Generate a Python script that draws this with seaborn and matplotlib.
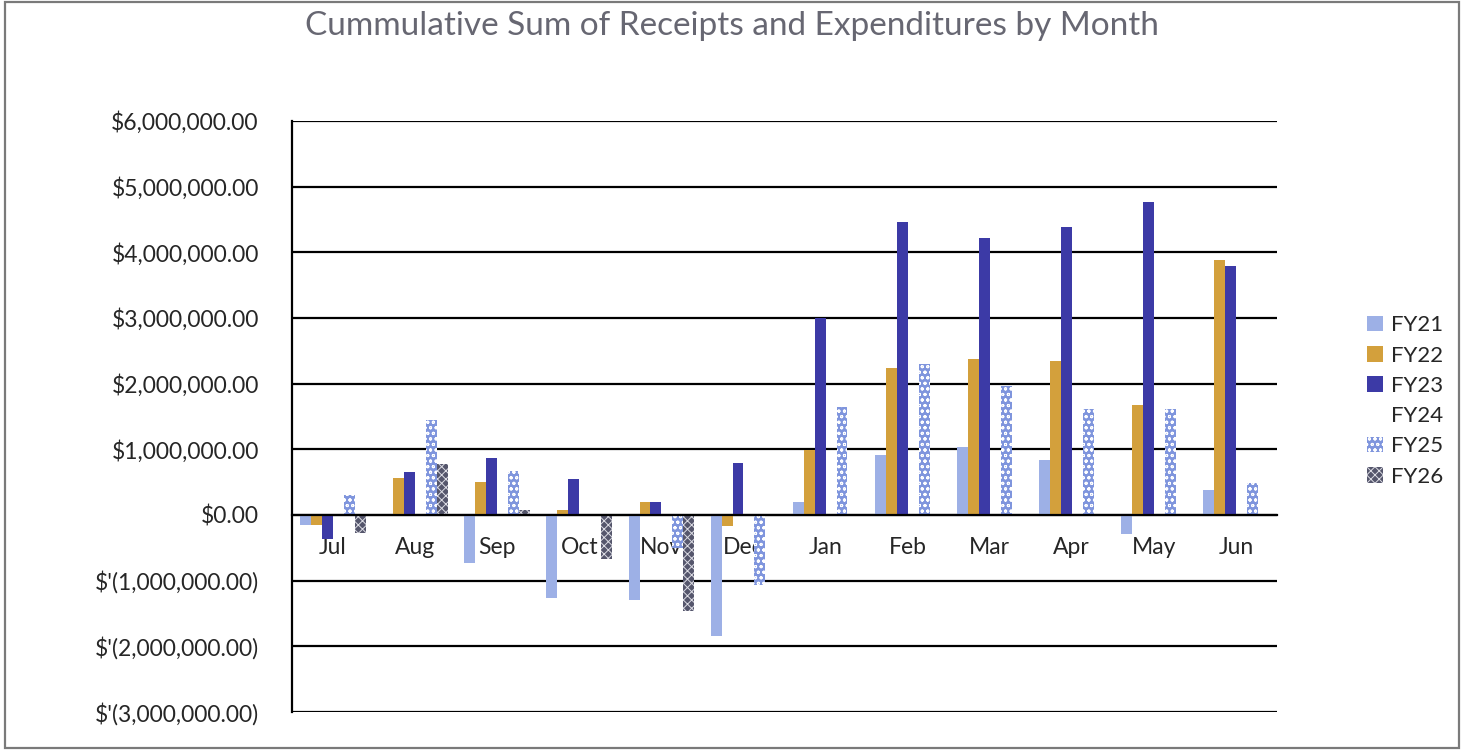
import numpy as np
import pandas as pd
import matplotlib
matplotlib.use("Agg")
import matplotlib.pyplot as plt
from matplotlib.patches import Rectangle
import seaborn as sns

# data (dollars, in millions)
months = ["Jul", "Aug", "Sep", "Oct", "Nov", "Dec", "Jan", "Feb", "Mar", "Apr", "May", "Jun"]
fy21 = [-0.15, 0.02, -0.73, -1.27, -1.30, -1.85, 0.19, 0.91, 1.04, 0.83, -0.29, 0.38]
fy22 = [-0.15, 0.56, 0.50, 0.07, 0.20, -0.17, 0.99, 2.23, 2.37, 2.35, 1.68, 3.88]
fy23 = [-0.37, 0.65, 0.87, 0.55, 0.20, 0.79, 3.00, 4.46, 4.21, 4.38, 4.77, 3.79]
fy24 = [0.0] * 12
fy25 = [0.31, 1.45, 0.67, -0.02, -0.50, -1.07, 1.65, 2.30, 1.96, 1.62, 1.62, 0.48]
fy26 = [-0.27, 0.78, 0.07, -0.67, -1.47, 0.0, 0.0, 0.0, 0.0, 0.0, 0.0, 0.0]
series = ["FY21", "FY22", "FY23", "FY24", "FY25", "FY26"]
y_ticks = [6, 5, 4, 3, 2, 1, 0, -1, -2, -3]
y_labels = ["$6,000,000.00", "$5,000,000.00", "$4,000,000.00", "$3,000,000.00",
            "$2,000,000.00", "$1,000,000.00", "$0.00", "$'(1,000,000.00)",
            "$'(2,000,000.00)", "$'(3,000,000.00)"]
title = "Cummulative Sum of Receipts and Expenditures by Month"

rows = []
for name, vals in zip(series, [fy21, fy22, fy23, fy24, fy25, fy26]):
    for m, v in zip(months, vals):
        rows.append({"Month": m, "Year": name, "Value": v * 1e6})
df = pd.DataFrame(rows)

sns.set_style("white")
plt.rcParams["font.family"] = ["Lato", "DejaVu Sans"]
plt.rcParams["hatch.linewidth"] = 0.7

palette = {"FY21": "#9DB0E6", "FY22": "#D3A03C", "FY23": "#3C3AA6",
           "FY24": "white", "FY25": "#7F95DD", "FY26": "#55566C"}

fig = plt.figure(figsize=(14.69, 7.51), dpi=100)
ax = fig.add_axes([0.1988, 0.052, 0.6705, 0.787])

sns.barplot(data=df, x="Month", y="Value", hue="Year", order=months,
            hue_order=series, palette=palette, errorbar=None, width=0.8,
            saturation=1, ax=ax, legend=False, zorder=3)

# patterned series: hatch colour follows the edge colour
for name, cont in zip(series, ax.containers):
    for bar in cont:
        bar.set_linewidth(0)
        if name == "FY25":
            bar.set_hatch("ooo")
            bar.set_edgecolor("white")
        elif name == "FY26":
            bar.set_hatch("xxxx")
            bar.set_edgecolor("#DCDCE4")

ax.set_ylim(-3e6, 6e6)
ax.set_xlim(-0.5, 11.5)
ax.set_yticks([v * 1e6 for v in y_ticks])
ax.set_yticklabels(y_labels, fontsize=16.5)
ax.yaxis.grid(True, color="black", linewidth=1.6, zorder=0)
ax.set_axisbelow(True)
ax.tick_params(axis="y", length=7, width=1.6, color="black", pad=17)

for s in ["top", "right"]:
    ax.spines[s].set_visible(False)
ax.spines["left"].set_color("black")
ax.spines["left"].set_linewidth(1.6)
ax.spines["bottom"].set_position(("data", 0))
ax.spines["bottom"].set_color("black")
ax.spines["bottom"].set_linewidth(1.6)
ax.spines["bottom"].set_zorder(4)

ax.set_xticks(range(len(months)))
ax.set_xticklabels(months, fontsize=16.5)
ax.set_xticks(np.arange(-0.5, 12, 1), minor=True)
ax.tick_params(axis="x", which="major", length=0, pad=16)
ax.tick_params(axis="x", which="minor", length=8, width=1.6, color="black", direction="out")
ax.set_xlabel("")
ax.set_ylabel("")

fig.text(0.498, 0.966, title, ha="center", va="center", fontsize=24, color="#676772")

handles = []
for name, cont in zip(series, ax.containers):
    p = cont[0]
    h = Rectangle((0, 0), 1, 1, facecolor=p.get_facecolor(), hatch=p.get_hatch(),
                  edgecolor=p.get_edgecolor() if p.get_hatch() else "none", linewidth=0)
    handles.append(h)
ax.legend(handles, series, loc="center left", bbox_to_anchor=(0.923, 0.466),
          bbox_transform=fig.transFigure, frameon=False, fontsize=16,
          handlelength=0.7, handleheight=0.7, handletextpad=0.4,
          labelspacing=0.46, borderpad=0)

fig.patches.append(Rectangle((0.0034, 0.004), 0.9898, 0.993, transform=fig.transFigure,
                             fill=False, edgecolor="#7A7A7A", linewidth=1.6))

fig.savefig("out.png", dpi=100)
